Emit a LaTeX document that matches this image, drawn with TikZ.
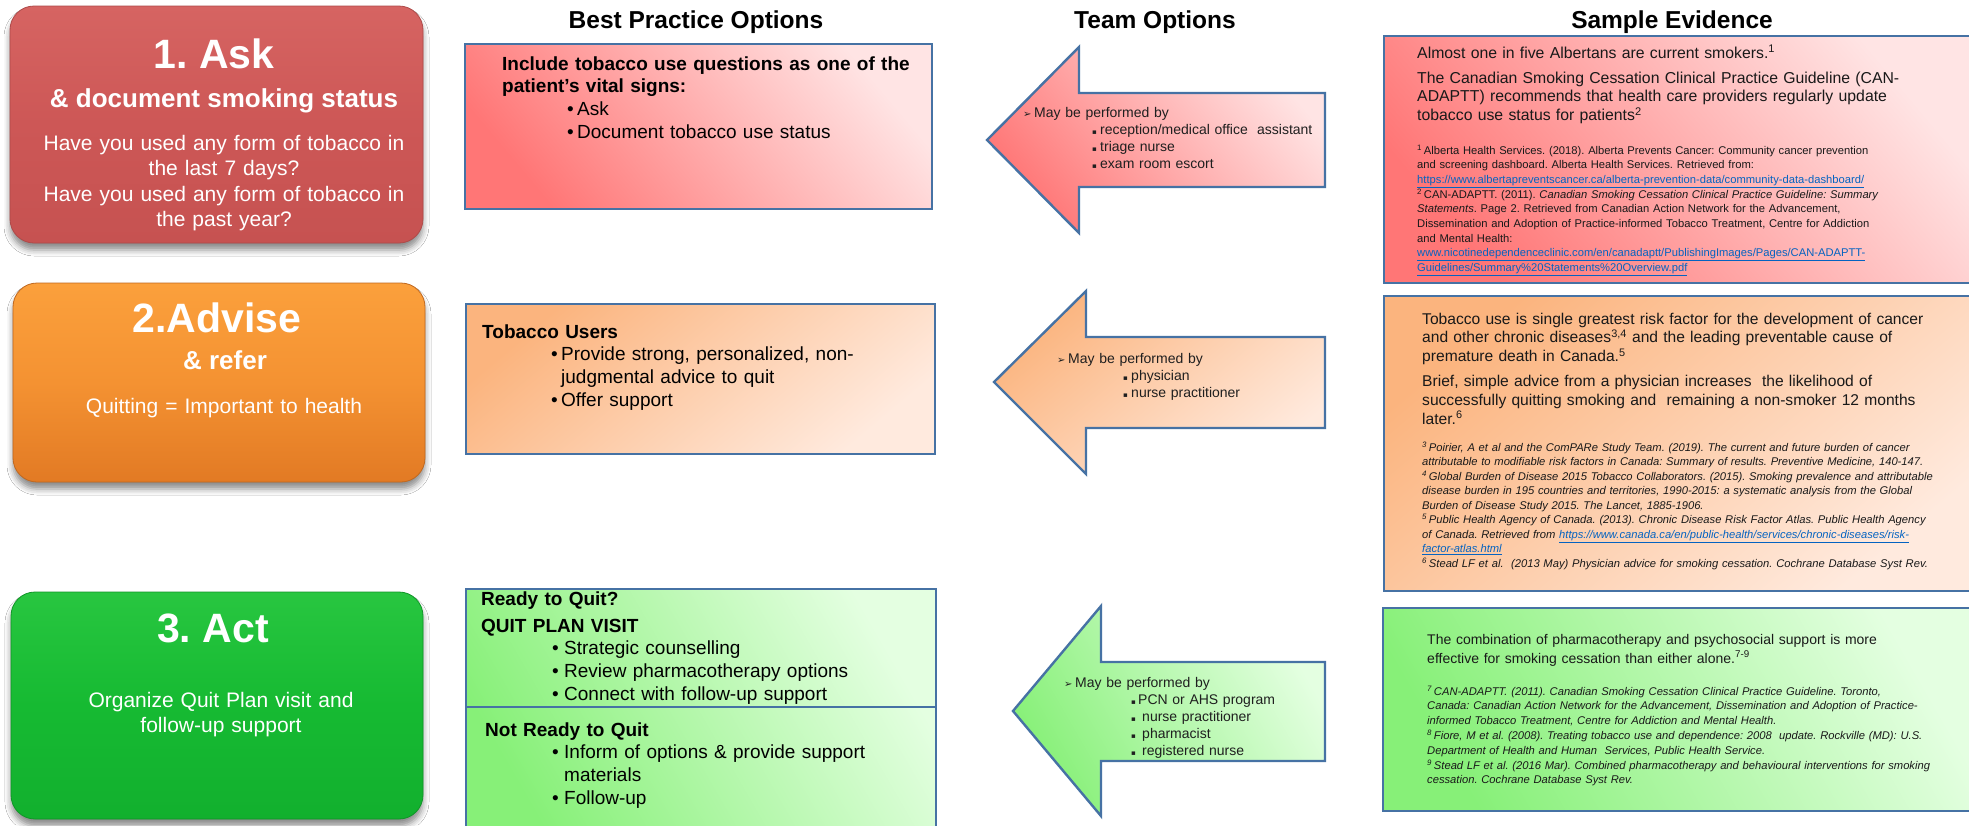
\documentclass[tikz,border=0pt]{standalone}
\usepackage{fontspec}
\setmainfont{Liberation Sans}
\newfontfamily\symfont{DejaVu Sans}
\usetikzlibrary{shadows.blur}

% palette
\definecolor{frameblue}{RGB}{70,114,164}
\definecolor{askred}{RGB}{205,87,86}
\definecolor{askredtop}{RGB}{214,100,98}
\definecolor{askredbot}{RGB}{198,82,81}
\definecolor{advor}{RGB}{244,146,50}
\definecolor{advortop}{RGB}{251,160,60}
\definecolor{advorbot}{RGB}{226,122,36}
\definecolor{actgr}{RGB}{22,186,50}
\definecolor{actgrtop}{RGB}{40,198,64}
\definecolor{actgrbot}{RGB}{18,176,46}
\definecolor{redstrong}{RGB}{255,118,118}
\definecolor{redlight}{RGB}{255,228,228}
\definecolor{orstrong}{RGB}{251,180,126}
\definecolor{orlight}{RGB}{255,234,222}
\definecolor{grstrong}{RGB}{135,240,120}
\definecolor{grlight}{RGB}{228,255,225}
\definecolor{linkblue}{RGB}{5,99,193}

\newcommand{\fsz}[2]{\fontsize{#1}{#2}\selectfont}
\newcommand{\lnk}[1]{{\color{linkblue}\underline{#1}}}
\newcommand{\bul}{\makebox[10pt][l]{\textbullet}}
\newcommand{\arr}{\makebox[11pt][l]{\symfont\fsz{10}{10}➢}}
\newcommand{\sqb}[1]{\makebox[#1][l]{\symfont\fsz{7}{7}▪}}

\begin{document}
\frenchspacing
\begin{tikzpicture}[x=1pt,y=-1pt,
  stepbox/.style={rounded corners=24pt, line width=0.8pt, inner sep=0pt,
    blur shadow={shadow xshift=0pt, shadow yshift=-7pt, shadow blur radius=6pt, shadow opacity=45}},
  framebox/.style={draw=frameblue, line width=2.4pt, inner sep=0pt},
  redfade/.style={top color=redlight, bottom color=redstrong, shading angle=-50},
  orfade/.style={top color=orstrong, bottom color=orlight, shading angle=40},
  grfade/.style={top color=grlight, bottom color=grstrong, shading angle=-60},
  steptitle/.style={text=white, font=\bfseries\fsz{41}{49}, anchor=base, inner sep=0pt},
  stepsub/.style={text=white, font=\bfseries\fsz{26}{31}, anchor=base, inner sep=0pt},
  steptext/.style={text=white, font=\fsz{21}{25.6}, anchor=base, inner sep=0pt, text width=400pt, align=center},
  header/.style={font=\bfseries\fsz{24.5}{29}, anchor=base, inner sep=0pt},
  bptext/.style={font=\fsz{19}{22.7}, anchor=base west, inner sep=0pt, text width=440pt, align=left},
  teamtext/.style={font=\fsz{14}{17}, anchor=base west, inner sep=0pt, text width=300pt, align=left, text=black!88},
  evmain/.style={font=\fsz{15.6}{18.8}, anchor=base west, inner sep=0pt, text width=560pt, align=left, text=black!90},
  evnote/.style={font=\fsz{11.2}{14.7}, anchor=base west, inner sep=0pt, text width=560pt, align=left, text=black!90},
]
\useasboundingbox (0,0) rectangle (1969,825);
\clip (0,0) rectangle (1969,825);
\fill[white] (0,0) rectangle (1969,825);

% ---------- the three steps ----------
\node[stepbox, draw=askred!85!black, top color=askredtop, bottom color=askredbot, middle color=askred,
      minimum width=413pt, minimum height=237pt] (ask) at (216.5,124.5) {};
\node[stepbox, draw=advorbot!85!black, top color=advortop, bottom color=advorbot, middle color=advor,
      minimum width=412pt, minimum height=199pt] (advise) at (219,382.5) {};
\node[stepbox, draw=actgrbot!85!black, top color=actgrtop, bottom color=actgrbot, middle color=actgr,
      minimum width=412pt, minimum height=227pt] (act) at (217,705.5) {};

\node[steptitle] (askT) at (214,68) {1. Ask};
\node[stepsub] (askS) at (224,107) {\& document smoking status};
\node[steptext] (askQ) at (224,150) {Have you used any form of tobacco in\\the last 7 days?\\Have you used any form of tobacco in\\the past year?};

\node[steptitle] (advT) at (217,332) {2.Advise};
\node[stepsub] (advS) at (225,369) {\& refer};
\node[steptext] (advQ) at (224,413) {Quitting = Important to health};

\node[steptitle] (actT) at (213,642) {3. Act};
\node[steptext] (actQ) at (221,707) {Organize Quit Plan visit and\\follow-up support};

% ---------- column headers ----------
\node[header] (hBP) at (696,28) {Best Practice Options};
\node[header] (hTeam) at (1155,28) {Team Options};
\node[header] (hEv) at (1672,28) {Sample Evidence};

% ---------- best practice options ----------
\node[framebox, redfade, minimum width=467pt, minimum height=165pt, anchor=north west] (bp1) at (464,43) {};
\node[framebox, orfade, minimum width=469pt, minimum height=150pt, anchor=north west] (bp2) at (465,303) {};
\node[framebox, grfade, minimum width=470pt, minimum height=250pt, anchor=north west] (bp3) at (465,588) {};
\coordinate (bpdiv) at (0,707);
\draw[frameblue, line width=2.4pt] (bp3.west |- bpdiv) -- (bp3.east |- bpdiv);

\node[bptext] (bp1t) at (502,70) {\textbf{Include tobacco use questions as one of the}\\
  \textbf{patient’s vital signs:}\\
  \hspace*{65pt}\bul Ask\\
  \hspace*{65pt}\bul Document tobacco use status};

\node[bptext] (bp2t) at (482,338) {\textbf{Tobacco Users}\\
  \hspace*{69pt}\bul Provide strong, personalized, non-\\
  \hspace*{79pt}judgmental advice to quit\\
  \hspace*{69pt}\bul Offer support};

\node[bptext] (bp3a) at (481,605) {\textbf{Ready to Quit?}\\[4.3pt]
  \textbf{QUIT PLAN VISIT}\\
  \hspace*{71pt}\makebox[12pt][l]{\textbullet}Strategic counselling\\
  \hspace*{71pt}\makebox[12pt][l]{\textbullet}Review pharmacotherapy options\\
  \hspace*{71pt}\makebox[12pt][l]{\textbullet}Connect with follow-up support};

\node[bptext] (bp3b) at (485,736) {\textbf{Not Ready to Quit}\\
  \hspace*{67pt}\makebox[12pt][l]{\textbullet}Inform of options \& provide support\\
  \hspace*{79pt}materials\\
  \hspace*{67pt}\makebox[12pt][l]{\textbullet}Follow-up};

% ---------- team options (arrows pointing to best practice) ----------
\draw[frameblue, line width=2.4pt, redfade]
  (1325,93) -- (1079,93) -- (1079,47) -- (987,140) -- (1079,233) -- (1079,187) -- (1325,187) -- cycle;
\draw[frameblue, line width=2.4pt, orfade]
  (1325,337) -- (1086,337) -- (1086,291) -- (994,382) -- (1086,474) -- (1086,428) -- (1325,428) -- cycle;
\draw[frameblue, line width=2.4pt, grfade]
  (1325,662) -- (1101,662) -- (1101,606) -- (1013,711) -- (1101,816) -- (1101,761) -- (1325,761) -- cycle;

\node[teamtext] (tm1) at (1023,117) {\arr May be performed by\\
  \hspace*{69pt}\sqb{8pt}reception/medical office\ \ assistant\\
  \hspace*{69pt}\sqb{8pt}triage nurse\\
  \hspace*{69pt}\sqb{8pt}exam room escort};
\node[teamtext] (tm2) at (1057,363) {\arr May be performed by\\
  \hspace*{66pt}\sqb{8pt}physician\\
  \hspace*{66pt}\sqb{8pt}nurse practitioner};
\node[teamtext] (tm3) at (1064,687) {\arr May be performed by\\
  \hspace*{67pt}\sqb{7pt}PCN or AHS program\\
  \hspace*{67pt}\sqb{11pt}nurse practitioner\\
  \hspace*{67pt}\sqb{11pt}pharmacist\\
  \hspace*{67pt}\sqb{11pt}registered nurse};

% ---------- sample evidence ----------
\node[framebox, redfade, minimum width=592pt, minimum height=247pt, anchor=north west] (ev1) at (1383,35) {};
\node[framebox, orfade, minimum width=592pt, minimum height=295pt, anchor=north west] (ev2) at (1383,295) {};
\node[framebox, grfade, minimum width=593pt, minimum height=203pt, anchor=north west] (ev3) at (1382,607) {};

\node[evmain, font=\fsz{15.8}{18.8}] (ev1m) at (1417,58) {Almost one in five Albertans are current smokers.\textsuperscript{1}\\[6.2pt]
  The Canadian Smoking Cessation Clinical Practice Guideline (CAN-\\
  ADAPTT) recommends that health care providers regularly update\\
  tobacco use status for patients\textsuperscript{2}};
\node[evnote] (ev1n) at (1417,154) {\textsuperscript{1}\,Alberta Health Services. (2018). Alberta Prevents Cancer: Community cancer prevention\\
  and screening dashboard. Alberta Health Services. Retrieved from:\\
  \lnk{https://www.albertapreventscancer.ca/alberta-prevention-data/community-data-dashboard/}\\
  \textsuperscript{2}\,CAN-ADAPTT. (2011). \textit{Canadian Smoking Cessation Clinical Practice Guideline: Summary}\\
  \textit{Statements}. Page 2. Retrieved from Canadian Action Network for the Advancement,\\
  Dissemination and Adoption of Practice-informed Tobacco Treatment, Centre for Addiction\\
  and Mental Health:\\
  \lnk{www.nicotinedependenceclinic.com/en/canadaptt/PublishingImages/Pages/CAN-ADAPTT-}\\
  \lnk{Guidelines/Summary\%20Statements\%20Overview.pdf}};

\node[evmain] (ev2m) at (1422,324) {Tobacco use is single greatest risk factor for the development of cancer\\
  and other chronic diseases\textsuperscript{3,4} and the leading preventable cause of\\
  premature death in Canada.\textsuperscript{5}\\[6pt]
  Brief, simple advice from a physician increases\ \ the likelihood of\\
  successfully quitting smoking and\ \ remaining a non-smoker 12 months\\
  later.\textsuperscript{6}};
\node[evnote, font=\itshape\fsz{11.2}{14.5}] (ev2n) at (1422,451) {\textsuperscript{3}\,Poirier, A et al and the ComPARe Study Team. (2019). The current and future burden of cancer\\
  attributable to modifiable risk factors in Canada: Summary of results. Preventive Medicine, 140-147.\\
  \textsuperscript{4}\,Global Burden of Disease 2015 Tobacco Collaborators. (2015). Smoking prevalence and attributable\\
  disease burden in 195 countries and territories, 1990-2015: a systematic analysis from the Global\\
  Burden of Disease Study 2015. The Lancet, 1885-1906.\\
  \textsuperscript{5}\,Public Health Agency of Canada. (2013). Chronic Disease Risk Factor Atlas. Public Health Agency\\
  of Canada. Retrieved from \lnk{https://www.canada.ca/en/public-health/services/chronic-diseases/risk-}\\
  \lnk{factor-atlas.html}\\
  \textsuperscript{6}\,Stead LF et al.\ \ (2013 May) Physician advice for smoking cessation. Cochrane Database Syst Rev.};

\node[evmain, font=\fsz{14}{19}] (ev3m) at (1427,644) {The combination of pharmacotherapy and psychosocial support is more\\
  effective for smoking cessation than either alone.\textsuperscript{7-9}};
\node[evnote, font=\itshape\fsz{11.2}{14.8}] (ev3n) at (1427,695) {\textsuperscript{7}\,CAN-ADAPTT. (2011). Canadian Smoking Cessation Clinical Practice Guideline. Toronto,\\
  Canada: Canadian Action Network for the Advancement, Dissemination and Adoption of Practice-\\
  informed Tobacco Treatment, Centre for Addiction and Mental Health.\\
  \textsuperscript{8}\,Fiore, M et al. (2008). Treating tobacco use and dependence: 2008\ \ update. Rockville (MD): U.S.\\
  Department of Health and Human\ \ Services, Public Health Service.\\
  \textsuperscript{9}\,Stead LF et al. (2016 Mar). Combined pharmacotherapy and behavioural interventions for smoking\\
  cessation. Cochrane Database Syst Rev.};
\end{tikzpicture}
\end{document}
